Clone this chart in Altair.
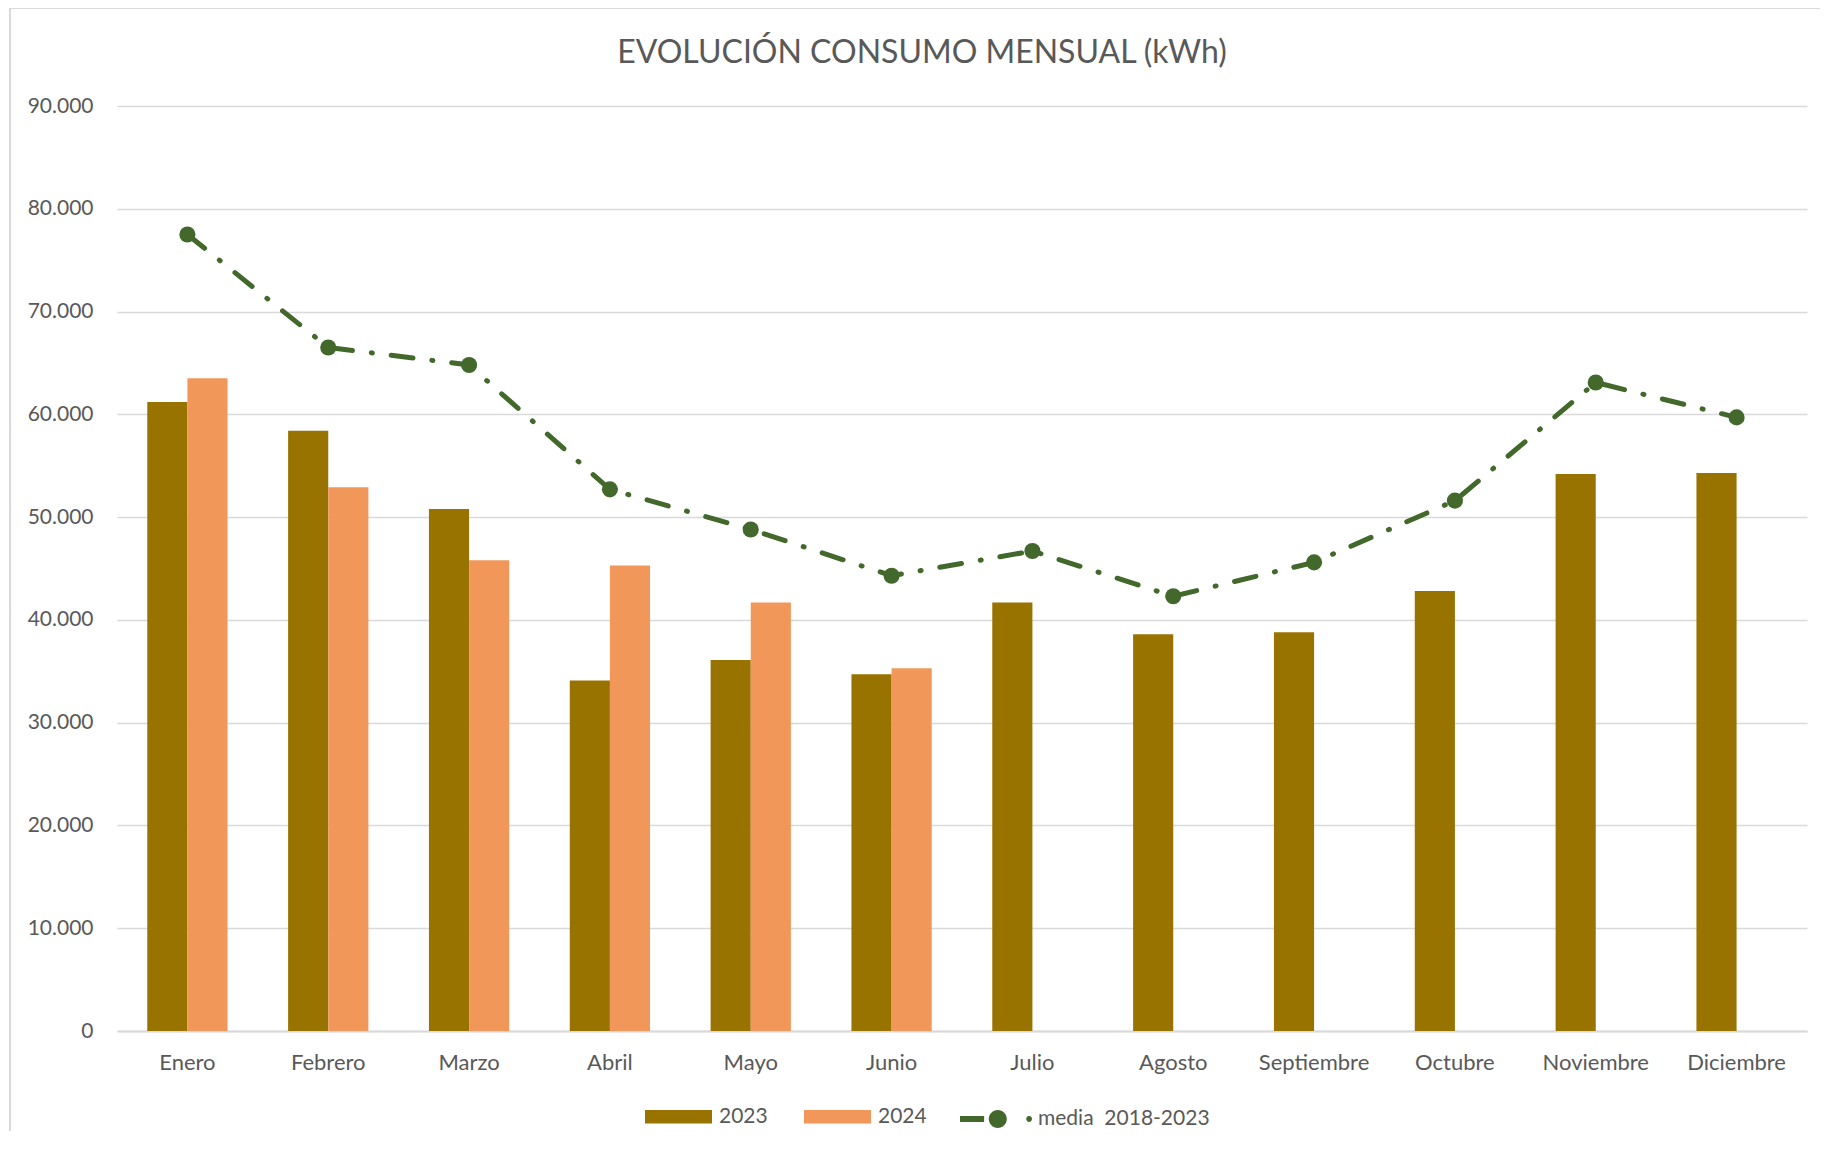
import altair as alt
import pandas as pd

meses = ["Enero", "Febrero", "Marzo", "Abril", "Mayo", "Junio", "Julio",
         "Agosto", "Septiembre", "Octubre", "Noviembre", "Diciembre"]
v2023 = [61200, 58400, 50800, 34100, 36100, 34700, 41700, 38600, 38800, 42800, 54200, 54300]
v2024 = [63500, 52900, 45800, 45300, 41700, 35300]
media = [77500, 66500, 64800, 52700, 48800, 44300, 46700, 42300, 45600, 51600, 63100, 59700]
serie_media = "media\u00a0 2018-2023"
titulo = "EVOLUCIÓN CONSUMO MENSUAL (kWh)"

rows = []
for m, v in zip(meses, v2023):
    rows.append({"mes": m, "anio": "2023", "valor": v})
for m, v in zip(meses, v2024):
    rows.append({"mes": m, "anio": "2024", "valor": v})
bars_df = pd.DataFrame(rows)
line_df = pd.DataFrame({"mes": meses, "valor": media, "serie": [serie_media] * len(meses)})

FONT = "Lato"
GRAY = "#595959"
GREEN = "#43682B"
W, H = 1690, 925

xscale = alt.Scale(domain=meses, paddingInner=0.43, paddingOuter=0.215)
yscale = alt.Scale(domain=[0, 90000])

x_enc = alt.X("mes:N", scale=xscale, sort=meses, title=None,
              axis=alt.Axis(labelAngle=0, labelFont=FONT, labelFontSize=22, labelColor=GRAY,
                            labelPadding=21, ticks=False, domainColor="#d9d9d9", domainWidth=2,
                            grid=False))
y_enc = alt.Y("valor:Q", scale=yscale, title=None,
              axis=alt.Axis(values=list(range(0, 90001, 10000)), labelFont=FONT, labelFontSize=21,
                            labelColor=GRAY, labelPadding=24, ticks=False, domain=False,
                            gridColor="#d9d9d9", gridWidth=1.5,
                            labelExpr="replace(format(datum.value, ','), ',', '.')"))

bar_path = "M-1,-0.2H1V0.2H-1Z"
bars = alt.Chart(bars_df).mark_bar().encode(
    x=x_enc,
    xOffset=alt.XOffset("anio:N", scale=alt.Scale(domain=["2023", "2024"], paddingInner=0, paddingOuter=0)),
    y=y_enc,
    color=alt.Color("anio:N", scale=alt.Scale(domain=["2023", "2024"], range=["#987300", "#F1975A"]),
                    legend=alt.Legend(title=None, orient="none", direction="horizontal",
                                      legendX=528, legendY=977, symbolType=bar_path, symbolSize=4489,
                                      symbolStrokeWidth=0, labelFont=FONT, labelFontSize=21,
                                      labelColor=GRAY, labelOffset=7, columnPadding=36, padding=0)),
)

line = alt.Chart(line_df).mark_line(strokeWidth=5, strokeDash=[22, 19, 1, 19], strokeCap="round",
                                    color=GREEN).encode(
    x=alt.X("mes:N", scale=xscale, sort=meses),
    y=alt.Y("valor:Q", scale=yscale),
)

leg_path = ("M-1,-0.08H-0.33V0.08H-1Z "
            "M-0.2,0A0.25,0.25 0 1 0 0.3,0A0.25,0.25 0 1 0 -0.2,0Z "
            "M0.84,0A0.08,0.08 0 1 0 1,0A0.08,0.08 0 1 0 0.84,0Z")
points = alt.Chart(line_df).mark_circle(size=260, opacity=1).encode(
    x=alt.X("mes:N", scale=xscale, sort=meses),
    y=alt.Y("valor:Q", scale=yscale),
    color=alt.Color("serie:N", scale=alt.Scale(domain=[serie_media], range=[GREEN]),
                    legend=alt.Legend(title=None, orient="none", direction="horizontal",
                                      legendX=843, legendY=977, symbolType=leg_path, symbolSize=5184,
                                      symbolStrokeWidth=0, symbolOpacity=1, labelFont=FONT,
                                      labelFontSize=21, labelColor=GRAY, labelOffset=6, padding=0,
                                      labelLimit=400)),
)

deco = pd.DataFrame({"t": [titulo]})
frame = alt.Chart(deco).mark_rect(fill="transparent", stroke="#d9d9d9", strokeWidth=2).encode(
    x=alt.value(-107), x2=alt.value(1760), y=alt.value(-98), y2=alt.value(1080)
)
title_mark = alt.Chart(deco).mark_text(font=FONT, fontSize=32, color=GRAY, align="center",
                                       baseline="middle").encode(
    text="t:N", x=alt.value(805), y=alt.value(-53)
)

chart = alt.layer(frame, title_mark, bars, line, points).resolve_scale(color="independent").properties(
    width=W, height=H,
    background="white",
    autosize=alt.AutoSizeParams(type="none"),
    padding={"left": 109, "top": 98, "right": 13, "bottom": 100},
).configure_view(strokeWidth=0, stroke="transparent")

chart.save("out.html", embed_options={"renderer": "svg", "actions": False})
